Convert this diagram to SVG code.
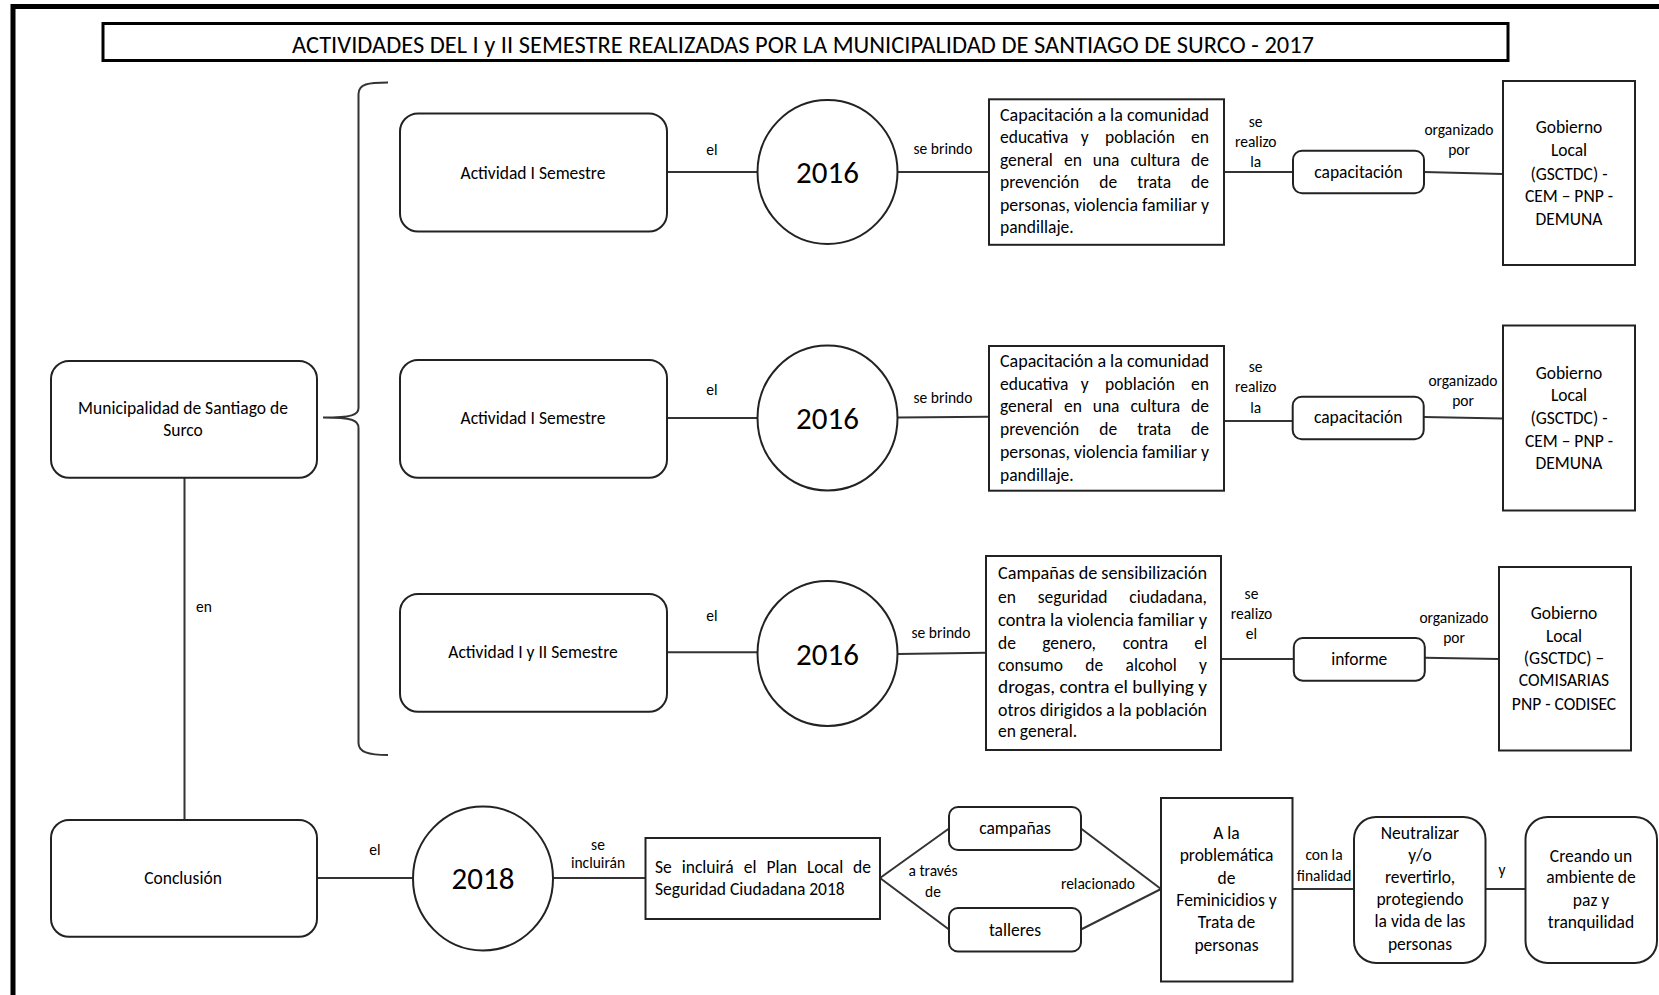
<svg xmlns="http://www.w3.org/2000/svg" width="1659" height="995" viewBox="0 0 1659 995">
<style>
.frame{fill:none;stroke:#000;stroke-width:5}
.box{fill:#fff;stroke:#222;stroke-width:2}
.ln{fill:none;stroke:#333;stroke-width:2}
text{font-family:Carlito,Lato,"Liberation Sans",sans-serif;font-size:17.5px;fill:#000}
.s{font-size:15.5px}
.big{font-size:31px}
.c{text-anchor:middle}
.e{text-anchor:end}
.title{font-size:24px;font-weight:300}
</style>
<rect width="1659" height="995" fill="#fff"/>
<rect class="frame" x="13" y="6.5" width="1700" height="1100"/>
<g id="title">
<rect x="103" y="23.5" width="1405" height="37" fill="#fff" stroke="#000" stroke-width="3"/>
<text class="c title" x="803" y="53" textLength="1022" lengthAdjust="spacingAndGlyphs">ACTIVIDADES DEL I y II SEMESTRE REALIZADAS POR LA MUNICIPALIDAD DE SANTIAGO DE SURCO - 2017</text>
</g>
<g id="connectors">
<path class="ln" d="M388,82.5 C368,82.5 358.5,84 358.5,94 V408 C358.5,415 352,417.5 323,417.5 C352,417.5 358.5,420 358.5,428 V743 C358.5,752 368,755 388,755"/>
<line class="ln" x1="184.5" y1="477.7" x2="184.5" y2="820"/>
<line class="ln" x1="667" y1="172" x2="757.5" y2="172"/>
<line class="ln" x1="897.5" y1="172" x2="989" y2="172"/>
<line class="ln" x1="1224" y1="172" x2="1293" y2="172"/>
<line class="ln" x1="1424" y1="172" x2="1503" y2="174"/>
<line class="ln" x1="667" y1="418" x2="757.5" y2="418"/>
<line class="ln" x1="897.5" y1="417.5" x2="989" y2="416.7"/>
<line class="ln" x1="1223" y1="421" x2="1292.7" y2="421"/>
<line class="ln" x1="1423.7" y1="417" x2="1503" y2="418.5"/>
<line class="ln" x1="667" y1="652.3" x2="757.5" y2="652.3"/>
<line class="ln" x1="897.5" y1="654" x2="986" y2="652.7"/>
<line class="ln" x1="1221" y1="659" x2="1293.8" y2="659"/>
<line class="ln" x1="1425" y1="657.7" x2="1499" y2="659"/>
<line class="ln" x1="317" y1="878" x2="413" y2="878"/>
<line class="ln" x1="553" y1="878" x2="645.5" y2="878"/>
<line class="ln" x1="880" y1="878" x2="949" y2="828.5"/>
<line class="ln" x1="880" y1="878" x2="949" y2="929.5"/>
<line class="ln" x1="1081" y1="828.5" x2="1161" y2="889"/>
<line class="ln" x1="1081" y1="929.5" x2="1161" y2="889"/>
<line class="ln" x1="1292.5" y1="889" x2="1354" y2="889"/>
<line class="ln" x1="1485.5" y1="889" x2="1525.5" y2="889"/>
<g id="labels">
<text class="s" x="196" y="611.5">en</text>
<text class="s c" x="712" y="155">el</text>
<text class="s c" x="712" y="395">el</text>
<text class="s c" x="712" y="621">el</text>
<text class="s c" x="943" y="153.5">se brindo</text>
<text class="s c" x="943" y="403">se brindo</text>
<text class="s c" x="941" y="638">se brindo</text>
<text class="s c" x="1255.7" y="126.7">se</text>
<text class="s c" x="1255.7" y="146.7">realizo</text>
<text class="s c" x="1255.7" y="166.7">la</text>
<text class="s c" x="1255.7" y="371.7">se</text>
<text class="s c" x="1255.7" y="392.3">realizo</text>
<text class="s c" x="1255.7" y="413.3">la</text>
<text class="s c" x="1251.5" y="599">se</text>
<text class="s c" x="1251.5" y="619.3">realizo</text>
<text class="s c" x="1251.5" y="639.3">el</text>
<text class="s c" x="1459" y="135">organizado</text>
<text class="s c" x="1459" y="155">por</text>
<text class="s c" x="1463" y="386">organizado</text>
<text class="s c" x="1463" y="406">por</text>
<text class="s c" x="1454" y="622.7">organizado</text>
<text class="s c" x="1454" y="643.3">por</text>
<text class="s c" x="375" y="855">el</text>
<text class="s c" x="598" y="850">se</text>
<text class="s c" x="598" y="868.3">incluirán</text>
<text class="s c" x="933" y="876">a través</text>
<text class="s c" x="933" y="896.5">de</text>
<text class="s c" x="1098" y="889">relacionado</text>
<text class="s c" x="1324" y="860">con la</text>
<text class="s c" x="1324" y="881">finalidad</text>
<text class="s c" x="1502" y="875">y</text>
</g>
</g>
<g id="municipalidad">
<rect class="box" x="51" y="361" width="266" height="116.7" rx="18"/>
<text class="c" x="183" y="413.5">Municipalidad de Santiago de</text>
<text class="c" x="183" y="435.5">Surco</text>
</g>
<g id="conclusion">
<rect class="box" x="51" y="820" width="266" height="116.7" rx="18"/>
<text class="c" x="183" y="884">Conclusión</text>
</g>
<g id="act1">
<rect class="box" x="400" y="113.5" width="267" height="118" rx="18"/>
<text class="c" x="533" y="178.5">Actividad I Semestre</text>
</g>
<g id="act2">
<rect class="box" x="400" y="360" width="267" height="117.7" rx="18"/>
<text class="c" x="533" y="423.5">Actividad I Semestre</text>
</g>
<g id="act3">
<rect class="box" x="400" y="594" width="267" height="117.7" rx="18"/>
<text class="c" x="533" y="658">Actividad I y II Semestre</text>
</g>
<g id="year1">
<ellipse class="box" cx="827.5" cy="172" rx="70" ry="72"/>
<text class="c big" x="827.5" y="183">2016</text>
</g>
<g id="year2">
<ellipse class="box" cx="827.5" cy="418" rx="70" ry="72.5"/>
<text class="c big" x="827.5" y="429">2016</text>
</g>
<g id="year3">
<ellipse class="box" cx="827.5" cy="653.5" rx="70" ry="72.5"/>
<text class="c big" x="827.5" y="664.5">2016</text>
</g>
<g id="desc1">
<rect class="box" x="989" y="99.3" width="235" height="145.5"/>
<text x="1000" y="120.5" textLength="209" lengthAdjust="spacingAndGlyphs">Capacitación a la comunidad</text>
<text x="1000" y="143.2">educativa</text><text class="c" x="1084.8" y="143.2">y</text><text class="c" x="1140" y="143.2">población</text><text class="e" x="1209" y="143.2">en</text>
<text x="1000" y="165.5">general</text><text class="c" x="1073" y="165.5">en</text><text class="c" x="1106.1" y="165.5">una</text><text class="c" x="1155.3" y="165.5">cultura</text><text class="e" x="1209" y="165.5">de</text>
<text x="1000" y="188.2">prevención</text><text class="c" x="1108.2" y="188.2">de</text><text class="c" x="1154.2" y="188.2">trata</text><text class="e" x="1209" y="188.2">de</text>
<text x="1000" y="210.5" textLength="209" lengthAdjust="spacingAndGlyphs">personas, violencia familiar y</text>
<text x="1000" y="233.2">pandillaje.</text>
</g>
<g id="desc2">
<rect class="box" x="989" y="346" width="235" height="144.7"/>
<text x="1000" y="366.5" textLength="209" lengthAdjust="spacingAndGlyphs">Capacitación a la comunidad</text>
<text x="1000" y="389.8">educativa</text><text class="c" x="1084.8" y="389.8">y</text><text class="c" x="1140" y="389.8">población</text><text class="e" x="1209" y="389.8">en</text>
<text x="1000" y="412.2">general</text><text class="c" x="1073" y="412.2">en</text><text class="c" x="1106.1" y="412.2">una</text><text class="c" x="1155.3" y="412.2">cultura</text><text class="e" x="1209" y="412.2">de</text>
<text x="1000" y="434.8">prevención</text><text class="c" x="1108.2" y="434.8">de</text><text class="c" x="1154.2" y="434.8">trata</text><text class="e" x="1209" y="434.8">de</text>
<text x="1000" y="457.8" textLength="209" lengthAdjust="spacingAndGlyphs">personas, violencia familiar y</text>
<text x="1000" y="480.5">pandillaje.</text>
</g>
<g id="desc3">
<rect class="box" x="986" y="556" width="235" height="194"/>
<text x="998" y="578.8" textLength="209" lengthAdjust="spacingAndGlyphs">Campañas de sensibilización</text>
<text x="998" y="603.2">en</text><text class="c" x="1072.6" y="603.2">seguridad</text><text class="e" x="1207" y="603.2">ciudadana,</text>
<text x="998" y="625.5" textLength="209" lengthAdjust="spacingAndGlyphs">contra la violencia familiar y</text>
<text x="998" y="648.8">de</text><text class="c" x="1069.1" y="648.8">genero,</text><text class="c" x="1145.4" y="648.8">contra</text><text class="e" x="1207" y="648.8">el</text>
<text x="998" y="671.2">consumo</text><text class="c" x="1094.2" y="671.2">de</text><text class="c" x="1151.2" y="671.2">alcohol</text><text class="e" x="1207" y="671.2">y</text>
<text x="998" y="693.2" textLength="209" lengthAdjust="spacingAndGlyphs">drogas, contra el bullying y</text>
<text x="998" y="715.5" textLength="209" lengthAdjust="spacingAndGlyphs">otros dirigidos a la población</text>
<text x="998" y="736.5">en general.</text>
</g>
<g id="cap1">
<rect class="box" x="1293" y="150.7" width="131" height="42.6" rx="9"/>
<text class="c" x="1358.5" y="177.5">capacitación</text>
</g>
<g id="cap2">
<rect class="box" x="1292.7" y="396.7" width="131" height="42.6" rx="9"/>
<text class="c" x="1358.2" y="423">capacitación</text>
</g>
<g id="informe">
<rect class="box" x="1293.8" y="638" width="131" height="42.7" rx="9"/>
<text class="c" x="1359.3" y="664.5">informe</text>
</g>
<g id="gob1">
<rect class="box" x="1503" y="81" width="132" height="184"/>
<text class="c" x="1569" y="133.2">Gobierno</text>
<text class="c" x="1569" y="155.5">Local</text>
<text class="c" x="1569" y="179.5">(GSCTDC) -</text>
<text class="c" x="1569" y="202.2">CEM – PNP -</text>
<text class="c" x="1569" y="224.8">DEMUNA</text>
</g>
<g id="gob2">
<rect class="box" x="1503" y="325.5" width="132" height="185"/>
<text class="c" x="1569" y="378.5">Gobierno</text>
<text class="c" x="1569" y="401.2">Local</text>
<text class="c" x="1569" y="423.5">(GSCTDC) -</text>
<text class="c" x="1569" y="447.2">CEM – PNP -</text>
<text class="c" x="1569" y="468.5">DEMUNA</text>
</g>
<g id="gob3">
<rect class="box" x="1499" y="567" width="132" height="183.5"/>
<text class="c" x="1564" y="618.5">Gobierno</text>
<text class="c" x="1564" y="642.2">Local</text>
<text class="c" x="1564" y="663.5">(GSCTDC) –</text>
<text class="c" x="1564" y="685.5">COMISARIAS</text>
<text class="c" x="1564" y="709.5">PNP - CODISEC</text>
</g>
<g id="year2018">
<ellipse class="box" cx="483" cy="878.5" rx="70" ry="72"/>
<text class="c big" x="483" y="889">2018</text>
</g>
<g id="plan">
<rect class="box" x="645.5" y="838" width="234.5" height="81"/>
<text x="655" y="873">Se</text><text class="c" x="707.7" y="873">incluirá</text><text class="c" x="750.2" y="873">el</text><text class="c" x="781.7" y="873">Plan</text><text class="c" x="825.1" y="873">Local</text><text class="e" x="871" y="873">de</text>
<text x="655" y="894.5">Seguridad Ciudadana 2018</text>
</g>
<g id="campanas">
<rect class="box" x="949" y="807" width="132" height="43" rx="9"/>
<text class="c" x="1015" y="834">campañas</text>
</g>
<g id="talleres">
<rect class="box" x="949" y="908" width="132" height="43.5" rx="9"/>
<text class="c" x="1015" y="935.5">talleres</text>
</g>
<g id="problematica">
<rect class="box" x="1161" y="798" width="131.5" height="183.5"/>
<text class="c" x="1226.5" y="838.5">A la</text>
<text class="c" x="1226.5" y="861">problemática</text>
<text class="c" x="1226.5" y="883.5">de</text>
<text class="c" x="1226.5" y="905.5">Feminicidios y</text>
<text class="c" x="1226.5" y="928">Trata de</text>
<text class="c" x="1226.5" y="950.5">personas</text>
</g>
<g id="neutralizar">
<rect class="box" x="1354" y="817" width="131.5" height="146" rx="22"/>
<text class="c" x="1420" y="838.5">Neutralizar</text>
<text class="c" x="1420" y="860.5">y/o</text>
<text class="c" x="1420" y="882.5">revertirlo,</text>
<text class="c" x="1420" y="904.5">protegiendo</text>
<text class="c" x="1420" y="927">la vida de las</text>
<text class="c" x="1420" y="949.5">personas</text>
</g>
<g id="creando">
<rect class="box" x="1525.5" y="817" width="131.5" height="146" rx="22"/>
<text class="c" x="1591" y="861.5">Creando un</text>
<text class="c" x="1591" y="883">ambiente de</text>
<text class="c" x="1591" y="905.5">paz y</text>
<text class="c" x="1591" y="928">tranquilidad</text>
</g>
</svg>
